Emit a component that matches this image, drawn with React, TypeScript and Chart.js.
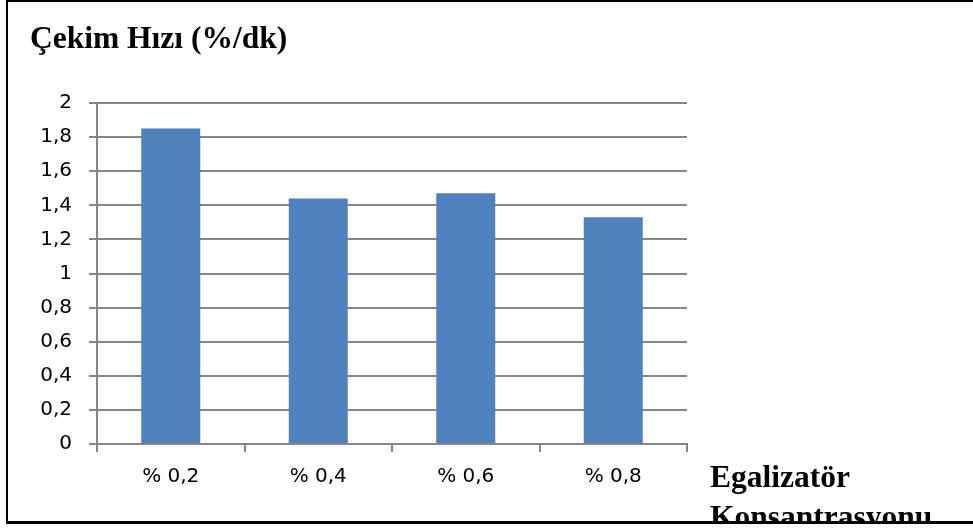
import React, { useEffect, useRef } from "react";
import { Chart, registerables } from "chart.js";

Chart.register(...registerables);

// Egalizatör konsantrasyonuna göre çekim hızı
const categories = ["% 0,2", "% 0,4", "% 0,6", "% 0,8"];
const cekimHizi = [1.85, 1.44, 1.47, 1.33];
const yMin = 0;
const yMax = 2;
const yStep = 0.2;

const chartTitle = "Çekim Hızı (%/dk)";
const axisTitleLines = ["Egalizatör", "Konsantrasyonu"];

const GRID = "#868686";
const BAR = "#4F81BD";
const TICK_FONT = "'DejaVu Sans', sans-serif";

const formatTick = (v: number) =>
  String(Number(v.toFixed(1))).replace(".", ",");

// Bold serif titles: one in the top-left corner, one beside the x axis end
const titlesPlugin = {
  id: "serifTitles",
  afterDraw(chart: any) {
    const { ctx, chartArea } = chart;
    ctx.save();
    ctx.fillStyle = "#000";
    ctx.textAlign = "left";
    ctx.textBaseline = "alphabetic";
    ctx.font = "bold 31.5px 'Liberation Serif', serif";
    ctx.fillText(chartTitle, 22, 46);
    const x = chartArea.right + 23;
    let y = chartArea.bottom + 43;
    for (const line of axisTitleLines) {
      ctx.fillText(line, x, y);
      y += 40;
    }
    ctx.restore();
  },
};

export default function App() {
  const canvasRef = useRef<HTMLCanvasElement>(null);

  useEffect(() => {
    const canvas = canvasRef.current;
    if (!canvas) return;
    const chart = new Chart(canvas, {
      type: "bar",
      data: {
        labels: categories,
        datasets: [
          {
            data: cekimHizi,
            backgroundColor: BAR,
            borderWidth: 0,
            barPercentage: 0.4,
            categoryPercentage: 1.0,
          },
        ],
      },
      options: {
        responsive: false,
        animation: false,
        devicePixelRatio: 1,
        layout: { padding: { left: 0, right: 286, top: 101, bottom: 0 } },
        plugins: {
          legend: { display: false },
          title: { display: false },
          tooltip: { enabled: false },
        },
        scales: {
          x: {
            grid: {
              display: true,
              drawOnChartArea: false,
              drawTicks: true,
              tickLength: 8,
              offset: true,
              color: GRID,
              lineWidth: 2,
            },
            border: { display: true, color: GRID, width: 2 },
            ticks: {
              color: "#000",
              padding: 13,
              font: { family: TICK_FONT, size: 20 },
              maxRotation: 0,
            },
            afterFit(scale: any) {
              scale.height = 77;
            },
          },
          y: {
            min: yMin,
            max: yMax,
            grid: {
              color: GRID,
              lineWidth: 2,
              drawTicks: true,
              tickLength: 8,
            },
            border: { display: true, color: GRID, width: 2 },
            ticks: {
              stepSize: yStep,
              color: "#000",
              padding: 17,
              font: { family: TICK_FONT, size: 20 },
              callback: (v: any) => formatTick(Number(v)),
            },
            afterFit(scale: any) {
              scale.width = 89;
            },
          },
        },
      },
      plugins: [titlesPlugin],
    });
    return () => chart.destroy();
  }, []);

  return (
    <div
      style={{
        position: "absolute",
        left: 6,
        top: 0,
        width: 965,
        height: 519,
        borderTop: "2px solid #000",
        borderLeft: "2px solid #000",
        borderBottom: "3px solid #000",
        overflow: "hidden",
        background: "#fff",
      }}
    >
      <canvas
        ref={canvasRef}
        width={965}
        height={519}
        style={{ display: "block", width: 965, height: 519 }}
      />
    </div>
  );
}
